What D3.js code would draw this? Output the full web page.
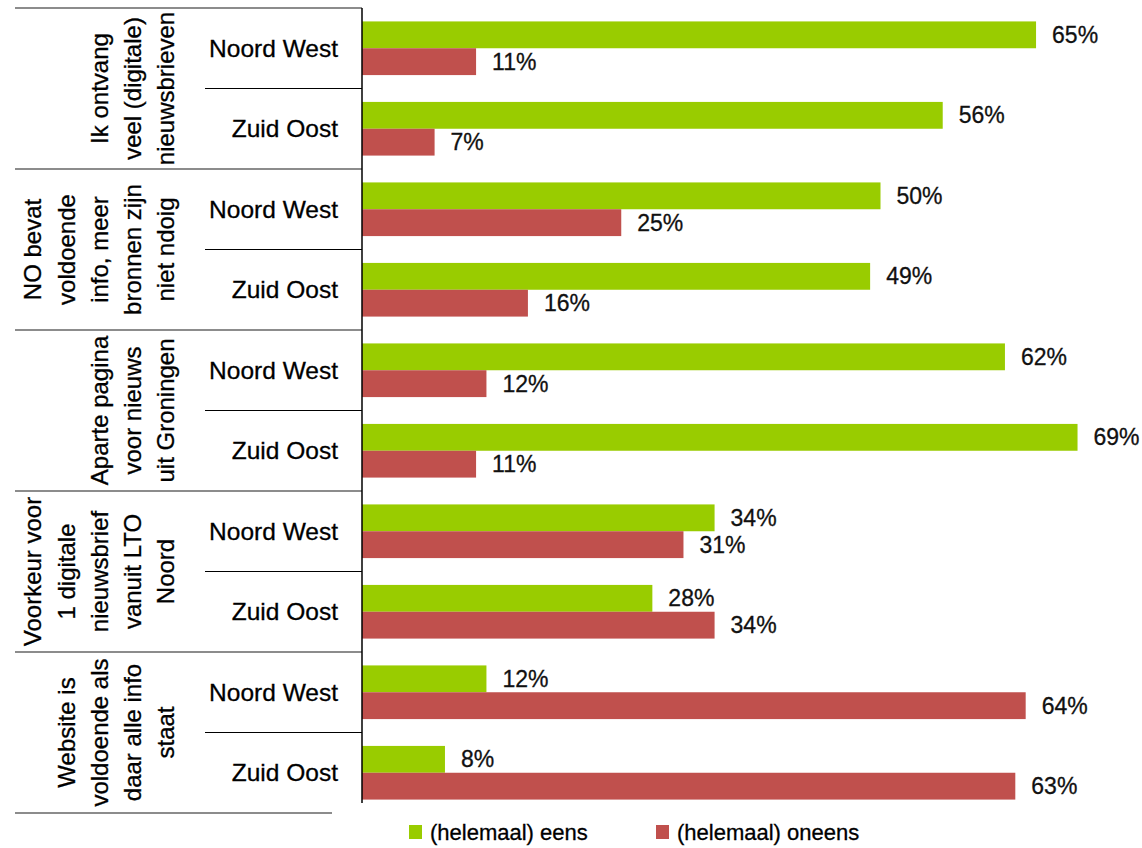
<!DOCTYPE html>
<html><head><meta charset="utf-8">
<script src="https://cdn.jsdelivr.net/npm/d3@7"></script>
<style>html,body{margin:0;padding:0;background:#fff}svg{display:block;font-family:"Liberation Sans",Arial,sans-serif}</style>
</head><body><svg id="c" width="1142" height="848"></svg>
<script>
const groups = [
  ["Ik ontvang","veel (digitale)","nieuwsbrieven"],
  ["NO bevat","voldoende","info, meer","bronnen zijn","niet ndoig"],
  ["Aparte pagina","voor nieuws","uit Groningen"],
  ["Voorkeur voor","1 digitale","nieuwsbrief","vanuit LTO","Noord"],
  ["Website is","voldoende als","daar alle info","staat"]
];
const regions = ["Noord West","Zuid Oost"];
const seriesNames = ["(helemaal) eens","(helemaal) oneens"];
const eens   = [65,56,50,49,62,69,34,28,12,8];
const oneens = [11,7,25,16,12,11,31,34,64,63];
const colors = ["#99CC00","#C0504D"];

const svg = d3.select("#c");
const plotTop = 8, plotBottom = 813, axisX = 362;
const rows = [];
groups.forEach((g,gi)=>regions.forEach((r,ri)=>rows.push({g:gi,r,idx:gi*2+ri})));
const y = d3.scaleBand().domain(rows.map(d=>d.idx)).range([plotTop,plotBottom]);
const x = d3.scaleLinear().domain([0,100]).range([axisX, axisX+1037]);
const inner = d3.scaleBand().domain([0,1]).range([0,y.bandwidth()]).paddingOuter(0.5).paddingInner(0);

// separators
const gy = d3.scaleBand().domain(d3.range(groups.length)).range([plotTop,plotBottom]);
const nG = groups.length;
svg.append("g").selectAll("line").data(d3.range(nG+1)).join("line")
  .attr("x1",15).attr("x2",d=>d===nG?332:axisX)
  .attr("y1",d=>plotTop+d*gy.step()).attr("y2",d=>plotTop+d*gy.step())
  .attr("stroke","#8c8c8c").attr("stroke-width",2);
svg.append("g").selectAll("line").data(d3.range(nG)).join("line")
  .attr("x1",205).attr("x2",axisX)
  .attr("y1",d=>gy(d)+gy.bandwidth()/2).attr("y2",d=>gy(d)+gy.bandwidth()/2)
  .attr("stroke","#000").attr("stroke-width",1);

// bars
const series = [eens, oneens];
series.forEach((vals,si)=>{
  const g = svg.append("g");
  g.selectAll("rect").data(rows).join("rect")
    .attr("x",x(0)).attr("y",d=>y(d.idx)+inner(si))
    .attr("width",d=>x(vals[d.idx])-x(0)).attr("height",inner.bandwidth())
    .attr("fill",colors[si]);
  g.selectAll("text").data(rows).join("text")
    .attr("x",d=>x(vals[d.idx])+16).attr("y",d=>y(d.idx)+inner(si)+inner.bandwidth()/2)
    .attr("dy","0.35em").attr("font-size",23).attr("fill","#111")
    .attr("stroke","#111").attr("stroke-width",0.3)
    .text(d=>vals[d.idx]+"%");
});

// axis line
svg.append("line").attr("x1",axisX).attr("x2",axisX).attr("y1",plotTop).attr("y2",803)
  .attr("stroke","#000").attr("stroke-width",1.5);

// region labels
svg.append("g").selectAll("text").data(rows).join("text")
  .attr("x",338).attr("y",d=>y(d.idx)+y.bandwidth()/2).attr("dy","0.35em")
  .attr("text-anchor","end").attr("font-size",24.5).attr("fill","#000")
  .attr("stroke","#000").attr("stroke-width",0.3).text(d=>d.r);

// group labels
groups.forEach((lines,gi)=>{
  const cy = gy(gi)+gy.bandwidth()/2;
  const n = lines.length;
  lines.forEach((t,i)=>{
    const cx = 166-(n-1-i)*33.3;
    svg.append("text").attr("transform",`translate(${cx},${cy}) rotate(-90)`)
      .attr("text-anchor","middle").attr("dy","0.35em").attr("font-size",24).attr("fill","#000")
      .attr("stroke","#000").attr("stroke-width",0.3).text(t);
  });
});

// legend
const lx = [409,656];
seriesNames.forEach((s,i)=>{
  svg.append("rect").attr("x",lx[i]).attr("y",825).attr("width",13).attr("height",14).attr("fill",colors[i]);
  svg.append("text").attr("x",lx[i]+21).attr("y",832).attr("dy","0.35em").attr("font-size",22).attr("fill","#000")
    .attr("stroke","#000").attr("stroke-width",0.3).text(s);
});
</script></body></html>
